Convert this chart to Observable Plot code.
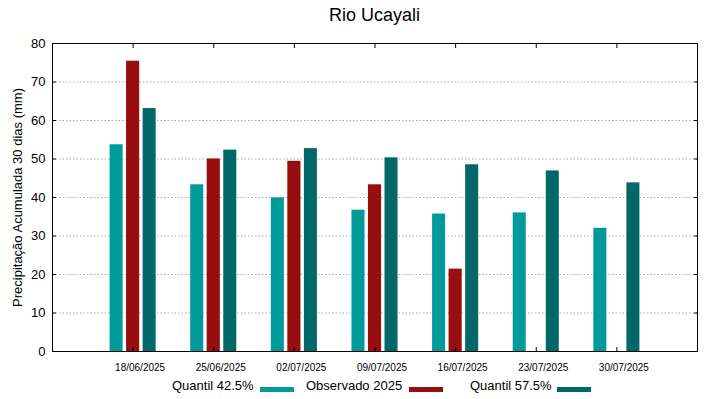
<!DOCTYPE html>
<html>
<head>
<meta charset="utf-8">
<script src="https://cdn.jsdelivr.net/npm/d3@7"></script>
<script src="https://cdn.jsdelivr.net/npm/@observablehq/plot@0.6"></script>
<style>
  html, body { margin: 0; padding: 0; background: #fff; }
  body { width: 719px; height: 399px; position: relative; overflow: hidden; font-family: "Liberation Sans", Arial, sans-serif; }
  #title { position: absolute; left: 52px; width: 645px; top: 5px; text-align: center; font-size: 18px; color: #000; }
  #chart { position: absolute; left: 0; top: 35px; }
  #legend { position: absolute; left: 0; top: 378px; width: 719px; height: 20px; font-size: 13px; color: #000; }
  .li { position: absolute; top: 0; white-space: nowrap; }
  .sw { position: absolute; top: 9px; width: 34px; height: 5px; }
</style>
</head>
<body>
<div id="title">Rio Ucayali</div>
<div id="chart"></div>
<div id="legend"></div>
<script>
// ---- data ----
const dates = ["18/06/2025", "25/06/2025", "02/07/2025", "09/07/2025", "16/07/2025", "23/07/2025", "30/07/2025"];
const quantil425 = [53.7, 43.3, 39.9, 36.7, 35.7, 36.0, 32.0];
const observado2025 = [75.4, 50.0, 49.4, 43.3, 21.4, null, null];
const quantil575 = [63.1, 52.3, 52.7, 50.3, 48.5, 46.9, 43.8];
const seriesNames = ["Quantil 42.5%", "Observado 2025", "Quantil 57.5%"];
const seriesColors = ["#009a9a", "#980d0d", "#006868"];
const yTicks = [0, 10, 20, 30, 40, 50, 60, 70, 80];
const gridTicks = [10, 20, 30, 40, 50, 60, 70];

// day offsets (x in days since first date; one group per week)
const dayOf = i => i * 7;
const seriesOffsets = [[-2.0, -0.87], [-0.57, 0.57], [0.87, 2.0]];
const seriesValues = [quantil425, observado2025, quantil575];

const rows = [];
seriesValues.forEach((vals, s) => {
  vals.forEach((v, i) => {
    if (v != null) rows.push({series: seriesNames[s], s, i, value: v});
  });
});
const xTicks = dates.map((d, i) => dayOf(i));

const plot = Plot.plot({
  width: 719,
  height: 340,
  marginLeft: 52,
  marginRight: 22,
  marginTop: 8,
  marginBottom: 24,
  style: {fontFamily: "Liberation Sans, Arial, sans-serif", background: "#fff"},
  x: {domain: [-7, 49], ticks: xTicks},
  y: {domain: [0, 80], ticks: yTicks},
  color: {domain: seriesNames, range: seriesColors},
  marks: [
    Plot.ruleY(gridTicks, {stroke: "#a8a8a8", strokeDasharray: "1.5,2", strokeWidth: 1}),
    Plot.rectY(rows, {
      x1: d => dayOf(d.i) + seriesOffsets[d.s][0],
      x2: d => dayOf(d.i) + seriesOffsets[d.s][1],
      y1: 0,
      y2: "value",
      fill: "series"
    }),
    Plot.axisY(yTicks, {anchor: "left", tickSize: 0, tickPadding: 7, fontSize: 13, label: null}),
    Plot.axisY(yTicks, {anchor: "left", tickSize: -4, tickFormat: () => "", label: null}),
    Plot.axisY(yTicks, {anchor: "right", tickSize: -4, tickFormat: () => "", label: null}),
    Plot.axisX(xTicks, {anchor: "bottom", tickSize: 0, tickPadding: 12, fontSize: 10, dx: 7, tickFormat: (d) => dates[d / 7], label: null}),
    Plot.axisX(xTicks, {anchor: "bottom", tickSize: -4, tickFormat: () => "", label: null}),
    Plot.axisX(xTicks, {anchor: "top", tickSize: -4, tickFormat: () => "", label: null}),
    Plot.frame({stroke: "#000", strokeWidth: 1}),
    Plot.text(["Precipitação Acumulada 30 dias (mm)"], {frameAnchor: "left", textAnchor: "middle", rotate: -90, dx: -35, fontSize: 13, fill: "#000"})
  ]
});
document.getElementById("chart").appendChild(plot);

// legend
const legend = document.getElementById("legend");
const legendPos = [[172, 260], [306, 409], [470, 557]];
seriesNames.forEach((name, k) => {
  const t = document.createElement("div");
  t.className = "li";
  t.style.left = legendPos[k][0] + "px";
  t.textContent = name;
  legend.appendChild(t);
  const sw = document.createElement("div");
  sw.className = "sw";
  sw.style.left = legendPos[k][1] + "px";
  sw.style.background = seriesColors[k];
  legend.appendChild(sw);
});
</script>
</body>
</html>
